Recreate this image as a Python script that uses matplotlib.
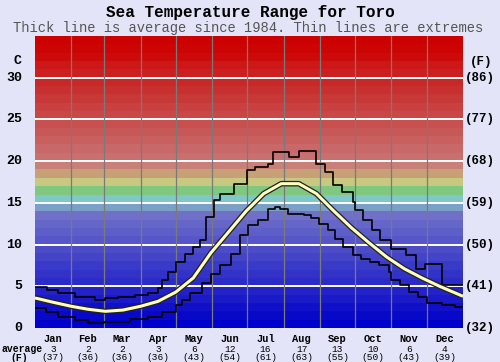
import matplotlib
matplotlib.use('Agg')
import matplotlib.pyplot as plt
import matplotlib.transforms as mtransforms
import numpy as np

months = ['Jan', 'Feb', 'Mar', 'Apr', 'May', 'Jun', 'Jul', 'Aug', 'Sep', 'Oct', 'Nov', 'Dec']
month_avg_c = ['3', '2', '2', '3', '6', '12', '16', '17', '13', '10', '6', '4']
month_avg_f = ['(37)', '(36)', '(36)', '(36)', '(43)', '(54)', '(61)', '(63)', '(55)', '(50)', '(43)', '(39)']
month_starts = [0, 31, 59, 90, 120, 151, 181, 212, 243, 273, 304, 334, 365]

c_ticks = [0, 5, 10, 15, 20, 25, 30]
f_ticks = ['(32)', '(41)', '(50)', '(59)', '(68)', '(77)', '(86)']

# average (thick line), day of year -> deg C
avg_days = [0, 15, 31, 45, 60, 75, 90, 105, 120, 135, 150, 165, 180, 195, 210,
            225, 240, 255, 270, 285, 300, 315, 330, 345, 365]
avg_temp = [3.6, 3.1, 2.6, 2.25, 2.0, 2.15, 2.6, 3.2, 4.3, 6.0, 9.0, 11.5, 14.0, 16.1, 17.3,
            17.3, 16.1, 14.0, 12.0, 10.2, 8.5, 7.1, 6.0, 5.0, 3.8]

# extremes (thin step lines)
max_days = [0, 10, 20, 34, 51, 60, 71, 85, 96, 105, 108, 113, 120, 128, 135, 141, 146,
            153, 158, 170, 181, 188, 199, 203, 217, 225, 240, 247, 254, 262, 271, 273,
            280, 287, 294, 304, 316, 325, 333, 347, 365]
max_temp = [4.95, 4.5, 4.15, 3.75, 3.35, 3.55, 3.75, 3.95, 4.15, 4.75, 5.75, 6.7, 7.9, 8.9,
            9.7, 10.5, 13.3, 15.3, 16.1, 17.3, 18.9, 19.3, 19.7, 21.1, 20.5, 21.2, 19.7,
            18.7, 17.1, 16.3, 15.1, 14.1, 12.9, 11.7, 10.5, 9.5, 8.7, 7.1, 7.65, 5.1, 5.1]

min_days = [0, 9, 20, 34, 45, 59, 81, 96, 108, 120, 125, 132, 142, 150, 158, 167, 175,
            182, 190, 199, 205, 209, 216, 229, 235, 242, 250, 256, 263, 271, 278, 286,
            293, 302, 304, 311, 319, 327, 334, 347, 358, 365]
min_temp = [2.35, 1.95, 1.35, 0.95, 0.55, 0.75, 1.05, 1.35, 1.95, 2.75, 3.35, 4.15, 5.35,
            6.5, 7.5, 8.9, 11.1, 12.3, 12.9, 14.3, 14.5, 14.3, 13.7, 13.5, 13.2, 12.5,
            11.8, 10.7, 9.7, 8.7, 8.3, 7.9, 7.5, 6.7, 5.75, 5.1, 4.35, 3.75, 2.95, 2.75,
            2.55, 2.55]

# colour of each 1 degree band, bottom (0) to top (35)
band_colors = [
    '#0000cc', '#0808c8', '#1010c8', '#1a1ac8', '#2222c8', '#2b2bc8', '#3232c8',
    '#3a3ac8', '#4444c8', '#4c4cc8', '#5656c8', '#5e5ec8', '#6666c8', '#7070c8',
    '#7aa0c8', '#80c8c8', '#80c880', '#c8c880', '#c8a078', '#c88078',
    '#c87070', '#c86868', '#c86060', '#c85858', '#c85050', '#c84848', '#c84040',
    '#c83838', '#c83030', '#c82828', '#cc2020', '#cc1818', '#cc0a0a', '#cc0404',
    '#cc0000',
]

bg = '#e4e4f8'
mono = 'Liberation Mono'

fig = plt.figure(figsize=(5, 3.62), dpi=100, facecolor=bg)
ax = fig.add_axes([35 / 500, 1 - 328 / 362, 428 / 500, 292 / 362])

for i, col in enumerate(band_colors):
    ax.axhspan(i, i + 1, color=col, lw=0, zorder=0)

for t in c_ticks[1:]:
    ax.axhline(t, color='white', lw=1.4, zorder=1)
for d in month_starts[1:-1]:
    ax.axvline(d, color='#7a7a7a', lw=0.9, zorder=1)

ax.step(max_days, max_temp, where='post', color='black', lw=1.2, zorder=3)
ax.step(min_days, min_temp, where='post', color='black', lw=1.2, zorder=3)
ax.plot(avg_days, avg_temp, color='#222222', lw=4.0, zorder=4, solid_capstyle='butt')
ax.plot(avg_days, avg_temp, color='#ffffc0', lw=2.2, zorder=5, solid_capstyle='butt')

ax.set_xlim(0, 365)
ax.set_ylim(0, 35)
ax.set_xticks([])
ax.set_yticks([])
for s in ax.spines.values():
    s.set_visible(False)

# titles
fig.text(0.5, 1 - 12 / 362, 'Sea Temperature Range for Toro', ha='center', va='center',
         fontsize=11.5, fontweight='bold', family=mono)
fig.text(0.497, 1 - 28 / 362, 'Thick line is average since 1984. Thin lines are extremes',
         ha='center', va='center', fontsize=9.9, color='#555555', family=mono)

# y labels
ty = mtransforms.blended_transform_factory(fig.transFigure, ax.transData)
for t, f in zip(c_ticks, f_ticks):
    fig.text(22 / 500, t, str(t), transform=ty, ha='right', va='center',
             fontsize=9.5, fontweight='bold', family=mono)
    fig.text(465 / 500, t, f, transform=ty, ha='left', va='center',
             fontsize=9, fontweight='bold', family=mono)
fig.text(17 / 500, 1 - 61 / 362, 'C', ha='center', va='center',
         fontsize=9.5, fontweight='bold', family=mono)
fig.text(481 / 500, 1 - 62 / 362, '(F)', ha='center', va='center',
         fontsize=9, fontweight='bold', family=mono)

# month labels and averages
tx = mtransforms.blended_transform_factory(ax.transData, fig.transFigure)
for i, m in enumerate(months):
    mid = (month_starts[i] + month_starts[i + 1]) / 2
    fig.text(mid, 1 - 339 / 362, m, transform=tx, ha='center', va='center',
             fontsize=7.5, fontweight='bold', family=mono)
    fig.text(mid, 1 - 349 / 362, month_avg_c[i], transform=tx, ha='center', va='center',
             fontsize=6.8, family=mono)
    fig.text(mid, 1 - 358 / 362, month_avg_f[i], transform=tx, ha='center', va='center',
             fontsize=6.8, family=mono)
fig.text(2 / 500, 1 - 349 / 362, 'average', ha='left', va='center',
         fontsize=7, fontweight='bold', family=mono)
fig.text(19 / 500, 1 - 358 / 362, '(F)', ha='center', va='center',
         fontsize=7, fontweight='bold', family=mono)

fig.savefig('out.png', dpi=100, facecolor=bg)
